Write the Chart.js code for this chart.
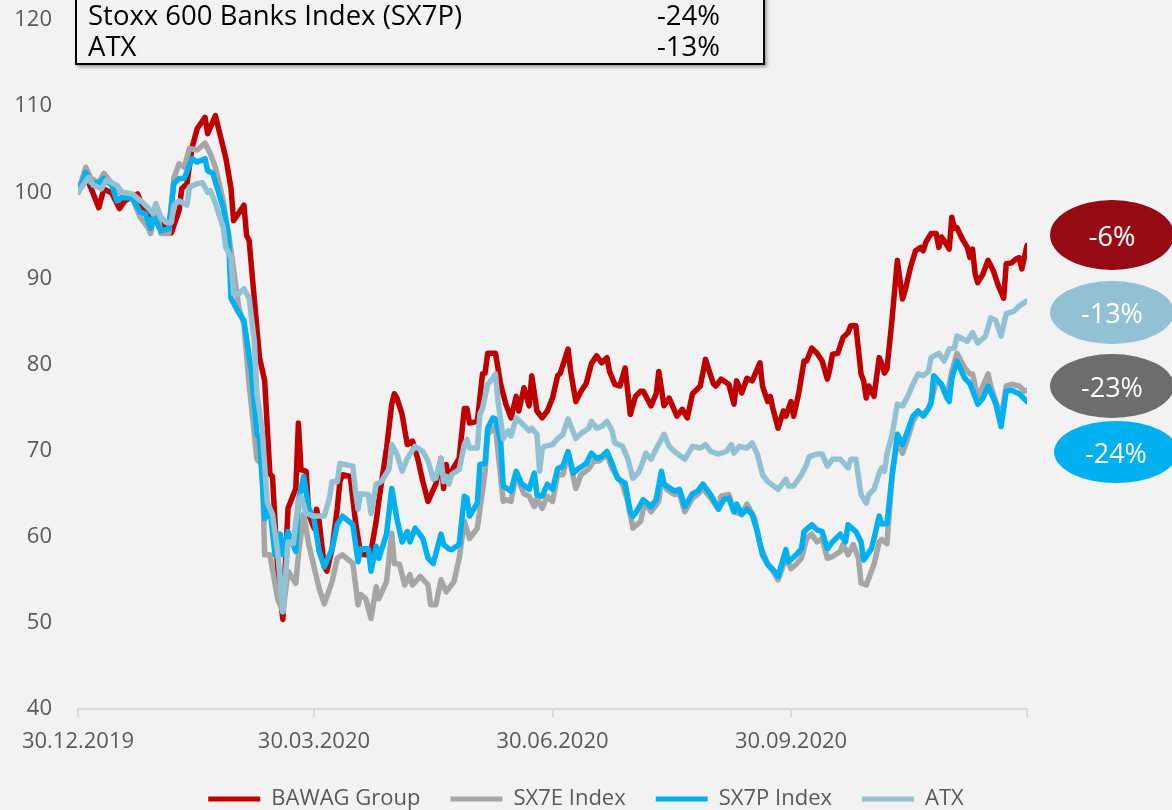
<!DOCTYPE html>
<html>
<head>
<meta charset="utf-8">
<script src="https://cdn.jsdelivr.net/npm/chart.js@4/dist/chart.umd.min.js"></script>
<style>
  html, body { margin: 0; padding: 0; background: #f2f2f2; overflow: hidden; }
  #wrap { position: relative; width: 1172px; height: 810px; font-family: 'Open Sans', sans-serif; }
  #chart { position: absolute; left: 0; top: 0; }
  .perf-table {
    position: absolute; left: 75px; top: -31px; width: 690px;
    box-sizing: border-box; border: 2px solid #000;
    padding: 28px 43px 2px 11px;
    box-shadow: 2px 2px 3px rgba(0,0,0,0.35);
    font-size: 27.5px; line-height: 31px; color: #000;
  }
  .perf-table .row { display: flex; justify-content: space-between; }
  .badge {
    position: absolute; border-radius: 50%;
    color: #fff; font-size: 27px; display: flex;
    align-items: center; justify-content: center;
  }
</style>
</head>
<body>
<div id="wrap">
  <canvas id="chart" width="1172" height="810"></canvas>

  <div class="perf-table">
    <div class="row"><span>Stoxx 600 Banks Index (SX7P)</span><span>-24%</span></div>
    <div class="row"><span>ATX</span><span>-13%</span></div>
  </div>

  <div class="badge" style="left:1050px;top:200px;width:124px;height:70px;background:#960a14;">-6%</div>
  <div class="badge" style="left:1050px;top:281px;width:124px;height:63px;background:#93c1d4;">-13%</div>
  <div class="badge" style="left:1050px;top:354px;width:124px;height:64px;background:#6d6d6d;">-23%</div>
  <div class="badge" style="left:1054px;top:421px;width:124px;height:62px;background:#00b0f0;">-24%</div>
</div>

<script>
// --- Data: [days since 30.12.2019, index value] ---
const tickDays = [0, 91, 183, 275, 366];
const tickLabels = ['30.12.2019', '30.03.2020', '30.06.2020', '30.09.2020', ''];

const bawag = [
  [0,100],[3,101.9],[5,100.5],[8,98.2],[10,100.4],[13,99.9],[16,98.1],[18,99],[23,99.8],[25,98.2],
  [29,97.1],[34,95.9],[36,95.3],[39,97.9],[40,100.4],[42,101],[44,105.2],[46,107.4],[49,108.7],[50,106.8],
  [53,108.9],[57,104],[59,100.5],[60,96.7],[64,98.5],[65,95],[66,94.4],[70,80.8],[72,78.1],[74,67.3],
  [75,67],[77,56.3],[79,50.4],[81,63.3],[84,65.6],[85,73.2],[86,67.8],[88,67.6],[89,62.6],[91,61],
  [92,63.2],[93,61.8],[95,56.5],[96,56],[98,58.6],[100,63.3],[101,66.4],[102,67.2],[105,67],[107,61.8],
  [109,58],[111,57.9],[113,58.3],[115,61.8],[116,64.1],[119,70.3],[121,75.4],[122,76.6],[123,76.1],[125,74.2],
  [127,70.7],[129,71.1],[131,69.1],[133,66.4],[135,64.1],[138,66.1],[140,69.1],[141,65.6],[142,68.4],[143,66.5],
  [144,67.6],[147,69.1],[149,74.9],[150,74.9],[151,73.2],[154,73.4],[156,78.9],[157,79],[158,81.3],[161,81.3],
  [163,77.7],[165,75.4],[167,73.8],[169,76.3],[170,74.6],[172,77.3],[174,75.2],[175,78.7],[177,74.6],[179,73.8],
  [181,74.6],[183,76.1],[185,78.7],[186,79],[189,81.8],[190,79.2],[192,75.7],[194,76.9],[196,77.8],[198,80.1],
  [200,81],[202,80.2],[204,80.8],[205,79.2],[207,77.7],[209,77.5],[211,79.6],[213,74.2],[215,76.3],[217,76.9],
  [218,76.9],[221,75.2],[223,76.6],[224,79.2],[226,75.2],[228,76.1],[231,74],[233,74.8],[235,73.8],[237,76.6],
  [240,77.5],[242,80.6],[245,77.8],[246,77.5],[248,78.3],[251,77.7],[253,75.4],[254,78.1],[256,76.7],[258,78.4],
  [260,78.1],[263,80.2],[264,77.5],[266,75.7],[267,76.3],[268,74.9],[270,72.6],[272,74.6],[273,74],[275,75.7],
  [276,74],[278,76.7],[280,80.4],[281,80.4],[283,81.9],[285,81.3],[287,80.4],[289,78.3],[290,79.5],[291,81.2],
  [293,81.3],[295,83.1],[297,83.7],[298,84.5],[300,84.5],[302,78.9],[303,78.1],[304,76.1],[305,77.5],[307,76.3],
  [309,80.8],[310,80.1],[311,79],[312,79.5],[314,85.4],[316,92.1],[318,87.6],[319,88.6],[321,91.2],[323,93.2],
  [325,93.6],[326,93.2],[327,94.2],[329,95.2],[331,95.2],[332,93.6],[333,94.8],[334,94.4],[336,93.4],[337,97.1],
  [338,95.8],[339,95.9],[341,94.6],[343,93.6],[344,92.4],[345,93.4],[346,90.5],[347,89.5],[349,90.5],[351,92.1],
  [353,90.9],[355,89.1],[357,87.7],[358,91.7],[360,91.8],[362,92.3],[363,92.4],[364,91.1],[366,93.8]
];

const sx7e = [
  [0,100],[3,102.9],[5,101.6],[8,101.1],[10,102.2],[13,101],[15,100.2],[17,99.8],[21,99.3],[24,97.1],
  [27,95.9],[28,95.2],[30,98.5],[32,95.2],[35,95.2],[37,101.7],[39,103.3],[41,102.9],[43,105.1],[46,104.9],
  [49,105.7],[51,104.5],[53,102.9],[56,99],[58,95.2],[59,93.2],[62,86.6],[64,84.7],[66,77.7],[69,69],
  [71,68.4],[72,57.9],[74,57.9],[77,52.8],[79,51.3],[81,56],[84,54.6],[85,57.9],[87,62.6],[89,59.1],
  [93,54],[95,52.2],[98,54.8],[100,57.5],[102,57.9],[106,56.9],[108,52.1],[109,53.3],[111,52.8],[113,50.5],
  [115,54.2],[116,52.8],[119,54.8],[121,60.4],[122,56.9],[124,56.8],[126,54.4],[128,55.6],[129,54.4],[132,55.4],
  [135,54.4],[136,52.1],[138,52.1],[140,55],[142,53.6],[145,54.8],[147,57.5],[149,61.8],[151,59.8],[154,61],
  [156,65.3],[157,67.6],[158,71.9],[161,72.8],[164,64.1],[165,64.3],[167,64.1],[169,67.2],[172,65],[174,64.7],
  [176,63.5],[177,64.5],[179,63.3],[181,64.7],[183,64.1],[185,67.2],[187,67.2],[189,69.7],[192,65.6],[194,67.2],
  [197,67.9],[199,68.8],[201,68.8],[204,69.6],[206,67.9],[210,66.1],[212,64.1],[214,61],[217,61.8],[218,63.2],
  [219,63.8],[221,62.9],[224,64.1],[225,66.8],[227,65.5],[230,64.9],[232,65],[234,62.9],[237,64.5],[239,64.9],
  [241,65.6],[244,64.5],[247,63.2],[248,64.7],[251,64.9],[253,62.9],[256,62.6],[258,63.8],[261,62.1],[263,59.1],
  [266,56.8],[268,56],[270,55],[273,57.5],[275,56.3],[277,56.8],[279,57.5],[281,59.8],[283,60.3],[285,59.4],
  [287,59.8],[289,57.5],[291,57.7],[294,58.3],[295,59.1],[297,57.9],[299,59.1],[301,57.5],[302,54.6],[304,54.4],
  [307,56.8],[309,59.4],[310,59.7],[312,59.2],[314,67.2],[316,71.1],[318,69.7],[320,71.4],[322,73.4],[324,74.4],
  [326,74.2],[328,74.9],[329,75.7],[331,78.1],[333,77.7],[335,76.1],[337,79.2],[339,81.3],[342,79.6],[344,78.9],
  [345,78.9],[347,76.1],[351,78.9],[352,77.5],[354,75.7],[356,73.8],[358,77.5],[360,77.7],[363,77.5],[365,76.9],
  [366,77]
];

const sx7p = [
  [0,100],[3,102.3],[5,101.1],[8,101.1],[10,101.6],[13,100.8],[15,99],[17,99.4],[21,99.3],[24,97.7],
  [26,97.5],[28,95.8],[29,97.3],[32,95.5],[35,95.8],[37,101],[39,101.6],[41,101.6],[44,103.9],[46,103.5],
  [49,103.9],[50,102.5],[52,102.2],[56,98.2],[58,95.2],[59,87.7],[62,86],[64,85.1],[67,78.9],[69,71.9],
  [70,71.4],[72,62.1],[74,63.3],[76,57.9],[78,60.3],[79,57.9],[81,60.6],[84,58.3],[85,64.1],[87,67],
  [89,63.3],[91,62.1],[93,58.3],[95,56.5],[98,58.6],[100,61.4],[102,62.4],[106,61.4],[108,57.1],[109,58.6],
  [112,58.6],[113,56],[115,58.9],[116,57.5],[119,60.3],[121,65.6],[123,62.1],[125,59.4],[127,60.6],[128,59.4],
  [130,61],[133,59.8],[135,57.5],[137,56.9],[140,60.3],[141,59.1],[143,58.6],[144,58.5],[147,59.1],[149,64.7],
  [150,64.5],[151,62.4],[154,63.9],[155,68.4],[157,68.5],[158,72.6],[160,73.8],[161,73.7],[163,71.1],[164,65.9],
  [167,65.3],[169,67.6],[171,66.2],[174,65.5],[176,67.4],[177,64.9],[179,64.7],[181,66.1],[183,65.5],[185,67.9],
  [187,68.2],[189,69.9],[191,67.4],[193,67.9],[196,68.5],[198,69.7],[200,69.1],[202,69.3],[204,69.9],[206,68.5],
  [208,66.8],[211,66.2],[213,62.9],[214,62.4],[215,62.7],[218,64.3],[221,63.5],[223,64.3],[225,67.6],[226,66.1],
  [230,65.3],[232,65.5],[234,63.5],[237,65],[239,65.3],[241,66.1],[244,64.9],[247,63.2],[249,64.3],[251,64.5],
  [253,62.9],[254,63.8],[256,62.6],[258,63.2],[260,62.6],[262,60.6],[264,57.9],[266,56.8],[268,56.2],[270,55.4],
  [273,58.5],[274,57.1],[277,57.9],[279,58.6],[280,60.6],[283,61.4],[285,60.8],[287,60.6],[289,58.6],[291,59.4],
  [294,60.3],[296,59.4],[297,61.4],[300,60.6],[302,59.4],[303,57.3],[306,58.6],[307,59.8],[309,62.4],[310,61.5],
  [312,61.5],[314,67.2],[316,71.9],[318,70.7],[320,72.3],[322,74],[324,74.6],[326,74],[328,74.9],[329,75.5],
  [330,78.7],[333,77.7],[336,75.7],[337,78.4],[339,80.4],[342,78.4],[344,77.8],[347,75.4],[349,76.1],[351,77.5],
  [354,75.4],[356,72.8],[358,76.9],[360,77],[363,76.6],[366,75.7]
];

const atx = [
  [0,100],[4,101.7],[6,100.8],[9,100.4],[11,101.4],[13,101.1],[15,100.8],[17,100],[21,99.8],[23,99.3],
  [25,98.8],[27,98.2],[29,97.5],[30,98.7],[32,97.1],[34,96.5],[36,96.5],[37,98.5],[39,99],[42,98.5],
  [43,100.6],[46,101],[48,101.1],[50,100],[51,100.2],[53,98.7],[56,95.9],[57,93.6],[59,92.4],[60,88.2],
  [62,88.2],[64,88.8],[66,87.7],[68,82.7],[69,76.6],[70,74.6],[71,72.5],[73,64],[75,62.6],[77,58.3],
  [78,54.8],[79,51.3],[81,59.4],[83,59.2],[85,64.1],[86,64.7],[88,62.7],[91,62.4],[93,62.4],[95,62.4],
  [97,64.5],[98,66.4],[100,66.4],[101,68.5],[106,68.2],[107,65.3],[108,63.2],[109,65],[112,64.9],[113,62.7],
  [115,66.1],[117,66.4],[120,67.9],[121,70.7],[123,69.6],[125,67.6],[127,69.1],[130,70.5],[133,69.9],[135,68.8],
  [137,66.7],[138,66.8],[140,69.1],[141,66.4],[142,67],[143,66.1],[144,67.2],[147,67.8],[149,70.7],[150,71.3],
  [151,70.3],[154,70.3],[155,74.2],[156,74.9],[158,77.7],[160,78.4],[161,78.9],[162,75.7],[164,71.4],[166,72.3],
  [167,71.7],[169,73.8],[171,73.2],[174,72.3],[175,72.6],[177,71.9],[178,67.6],[179,70.2],[180,70.5],[183,70.7],
  [185,71.4],[187,71.9],[189,73.7],[192,71.4],[194,72],[197,72.6],[198,73.4],[200,72.6],[202,72.8],[204,73.4],
  [206,72.3],[207,70.9],[210,70.5],[212,69.1],[214,66.8],[216,67.4],[217,68],[219,69.7],[221,69],[223,70.2],
  [226,71.9],[228,70.5],[230,69.9],[234,69],[237,70.5],[240,70.3],[242,70.7],[244,69.9],[247,69.6],[250,69.9],
  [252,70.7],[253,69.7],[255,70.5],[258,70.3],[260,70.9],[262,69.6],[264,67.2],[266,66.4],[270,65.5],[273,66.7],
  [274,65.9],[276,65.9],[279,67.2],[281,68.4],[282,69.3],[285,69.6],[287,69.6],[289,68.2],[291,69],[294,69],
  [297,68],[298,69],[300,69],[302,64.9],[304,63.9],[305,64.9],[307,65.5],[309,67.4],[310,68],[311,67.6],
  [312,69.6],[314,71.9],[316,75.4],[318,75.2],[320,76.3],[322,77.7],[324,78.9],[326,78.7],[328,79.2],[329,80.8],
  [332,81.3],[334,80.4],[336,81.8],[338,81.9],[339,83.3],[343,82.7],[345,83.7],[347,82.5],[350,83.3],[352,85.4],
  [354,85.1],[356,83.3],[358,85.9],[361,86.2],[363,86.8],[365,87.2],[366,87.4]
];

const seriesNames = ['BAWAG Group', 'SX7E Index', 'SX7P Index', 'ATX'];
const seriesColors = ['#c00000', '#a6a6a6', '#00b0f0', '#93c1d4'];

Chart.defaults.font.family = "'Open Sans', sans-serif";
Chart.defaults.color = '#595959';

const toPoints = arr => arr.map(p => ({ x: p[0], y: p[1] }));

const datasets = [bawag, sx7e, sx7p, atx].map((arr, i) => ({
  label: seriesNames[i],
  data: toPoints(arr),
  borderColor: seriesColors[i],
  backgroundColor: seriesColors[i],
  borderWidth: 5.5,
  pointRadius: 0,
  tension: 0,
  borderJoinStyle: 'round',
  borderCapStyle: 'round',
  order: 3 - i   // ATX on top, BAWAG at the bottom
}));

new Chart(document.getElementById('chart').getContext('2d'), {
  type: 'line',
  data: { datasets },
  options: {
    responsive: false,
    animation: false,
    layout: { padding: { top: 20, bottom: -10, left: 0, right: 0 } },
    plugins: {
      tooltip: { enabled: false },
      legend: {
        position: 'bottom',
        labels: {
          boxWidth: 52,
          boxHeight: 5,
          padding: 30,
          font: { size: 22 },
          color: '#595959',
          sort: (a, b) => a.datasetIndex - b.datasetIndex,
          generateLabels: chart => Chart.defaults.plugins.legend.labels.generateLabels(chart)
            .map(l => ({ ...l, lineWidth: 0, fillStyle: seriesColors[l.datasetIndex] }))
        }
      }
    },
    scales: {
      x: {
        type: 'linear',
        min: 0, max: 366,
        afterBuildTicks: s => { s.ticks = tickDays.map(v => ({ value: v })); },
        afterFit: s => { s.height = 49; },
        grid: { display: true, drawOnChartArea: false, drawTicks: true, tickLength: 8, color: '#d9d9d9', lineWidth: 2 },
        border: { display: true, color: '#d9d9d9', width: 2 },
        ticks: {
          autoSkip: false, maxRotation: 0, minRotation: 0, padding: 12,
          font: { size: 22 }, color: '#595959',
          callback: v => tickLabels[tickDays.indexOf(v)] ?? ''
        }
      },
      y: {
        min: 40, max: 120,
        afterFit: s => { s.width = 78; },
        // invisible tick marks make the gap between labels and plot
        grid: { display: true, drawOnChartArea: false, drawTicks: true, tickLength: 26, color: 'rgba(0,0,0,0)' },
        border: { display: false },
        ticks: { stepSize: 10, padding: 0, font: { size: 22 }, color: '#595959' }
      },
      yr: {
        position: 'right',
        min: 40, max: 120,
        afterFit: s => { s.width = 145; },
        grid: { display: false },
        border: { display: false },
        ticks: { display: false }
      }
    }
  }
});
</script>
</body>
</html>
